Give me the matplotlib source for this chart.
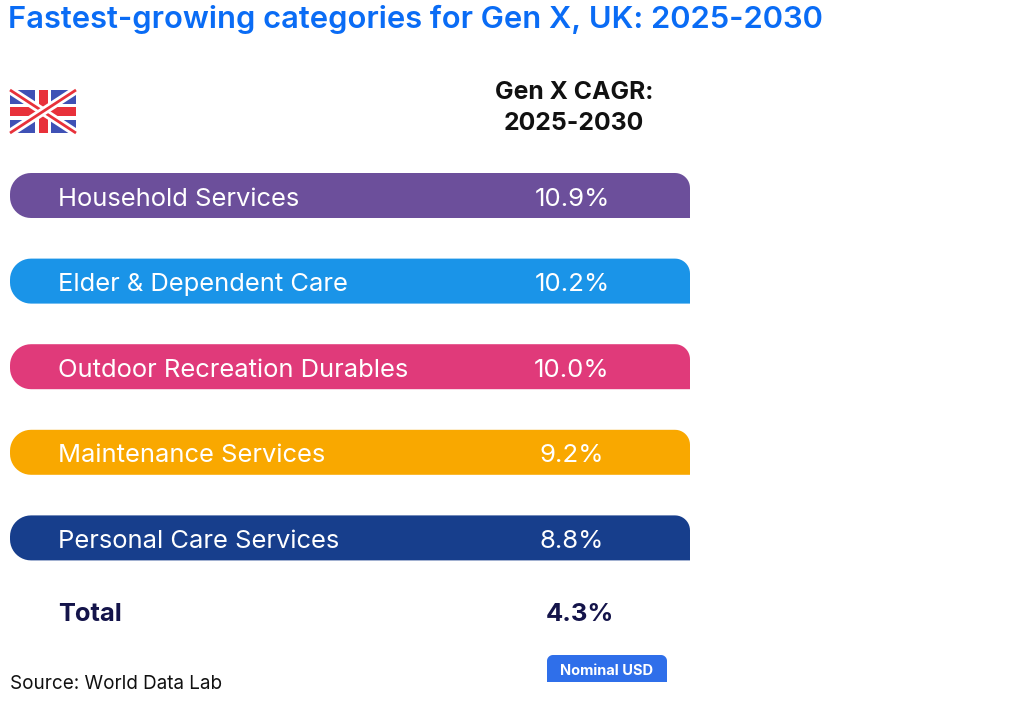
import matplotlib
matplotlib.use("Agg")
import numpy as np
import matplotlib.pyplot as plt
from matplotlib.patches import Rectangle, Polygon

# data
categories = ["Household Services", "Elder & Dependent Care",
              "Outdoor Recreation Durables", "Maintenance Services",
              "Personal Care Services"]
cagr = [10.9, 10.2, 10.0, 9.2, 8.8]
total_cagr = 4.3
colors = ["#6C4F9B", "#1A94E8", "#E03A7A", "#F9A800", "#173E8C"]

title = "Fastest-growing categories for Gen X, UK: 2025-2030"
header = "Gen X CAGR:\n2025-2030"
source = "Source: World Data Lab"
badge = "Nominal USD"

plt.rcParams['font.family'] = ['Inter', 'DejaVu Sans']

W, H = 1023, 703
fig = plt.figure(figsize=(W / 100, H / 100), dpi=100)
ax = fig.add_axes([0, 0, 1, 1])
ax.set_xlim(0, W)
ax.set_ylim(H, 0)
ax.axis('off')


def arc(cx, cy, r, a0, a1, n=12):
    t = np.radians(np.linspace(a0, a1, n))
    return [(cx + r * np.cos(tt), cy + r * np.sin(tt)) for tt in t]


def bar_shape(x0, y0, x1, y1, rl, rtr, color):
    # y grows downward in this axes
    pts = []
    pts += arc(x0 + rl, y0 + rl, rl, 180, 270)          # top-left
    pts += arc(x1 - rtr, y0 + rtr, rtr, 270, 360)       # top-right
    pts.append((x1, y1))                                 # bottom-right square
    pts += arc(x0 + rl, y1 - rl, rl, 90, 180)           # bottom-left
    return Polygon(pts, closed=True, linewidth=0, facecolor=color)


# flag
fx0, fy0, fw, fh = 10, 90, 66, 43
ax.add_patch(Rectangle((fx0, fy0), fw, fh, color="#3F51B5", lw=0))
for (a, b) in [((fx0, fy0), (fx0 + fw, fy0 + fh)), ((fx0, fy0 + fh), (fx0 + fw, fy0))]:
    ax.plot([a[0], b[0]], [a[1], b[1]], color="white", lw=6, solid_capstyle='butt')
    ax.plot([a[0], b[0]], [a[1], b[1]], color="#E8313A", lw=2, solid_capstyle='butt')
ax.add_patch(Rectangle((fx0 + fw / 2 - 8, fy0), 16, fh, color="white", lw=0))
ax.add_patch(Rectangle((fx0, fy0 + fh / 2 - 8), fw, 16, color="white", lw=0))
ax.add_patch(Rectangle((fx0 + fw / 2 - 4.5, fy0), 9, fh, color="#E8313A", lw=0))
ax.add_patch(Rectangle((fx0, fy0 + fh / 2 - 4.5), fw, 9, color="#E8313A", lw=0))

ax.text(8, 19, title, color="#0A6CF5", fontsize=22.3, fontweight='semibold',
        ha='left', va='center')
ax.text(574, 108, header, color="#111111", fontsize=17.8, fontweight='bold',
        ha='center', va='center', linespacing=1.45)

bar_top = 173
step = 85.6
bh = 45
for i, (cat, v, c) in enumerate(zip(categories, cagr, colors)):
    y0 = bar_top + i * step
    ax.add_patch(bar_shape(10, y0, 690, y0 + bh, 21, 15, c))
    ax.text(58, y0 + bh / 2 + 1, cat, color="white", fontsize=18.4,
            ha='left', va='center_baseline')
    ax.text(572, y0 + bh / 2 + 1, f"{v:.1f}%", color="white", fontsize=18.6,
            ha='center', va='center_baseline')

ty = 612
ax.text(58, ty, "Total", color="#14144A", fontsize=18.4, fontweight='bold',
        ha='left', va='center_baseline')
ax.text(580, ty, f"{total_cagr:.1f}%", color="#14144A", fontsize=18.4,
        fontweight='bold', ha='center', va='center_baseline')

# badge (rounded top, square bottom)
bx0, by0, bx1, by1 = 547, 655, 667, 682
pts = [(bx0, by1)] + arc(bx0 + 6, by0 + 6, 6, 180, 270) + arc(bx1 - 6, by0 + 6, 6, 270, 360) + [(bx1, by1)]
ax.add_patch(Polygon(pts, closed=True, color="#2F6FEA", lw=0))
ax.text((bx0 + bx1) / 2, (by0 + by1) / 2 + 1, badge, color="white",
        fontsize=10.5, fontweight='bold', ha='center', va='center_baseline')

ax.text(10, 682, source, color="#111111", fontsize=13.6, ha='left',
        va='center_baseline')

fig.savefig("out.png", dpi=100)
